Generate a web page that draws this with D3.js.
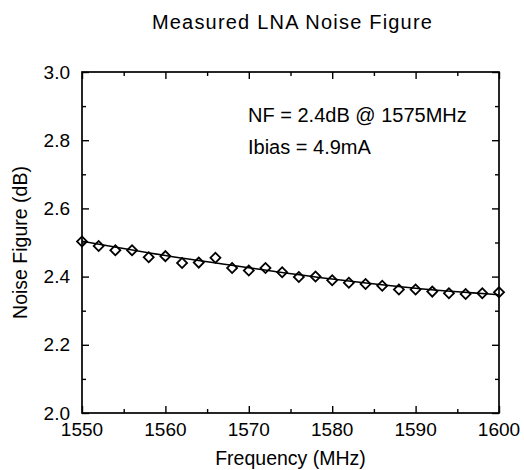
<!DOCTYPE html>
<html>
<head>
<meta charset="utf-8">
<script src="https://cdn.jsdelivr.net/npm/d3@7"></script>
<style>
  body { margin: 0; background: #fff; }
  text { font-family: "Liberation Sans", Arial, Helvetica, sans-serif; fill: #000; }
</style>
</head>
<body>
<div id="chart"></div>
<script>
// measured points
var freq = [1550, 1552, 1554, 1556, 1558, 1560, 1562, 1564, 1566, 1568, 1570, 1572, 1574,
            1576, 1578, 1580, 1582, 1584, 1586, 1588, 1590, 1592, 1594, 1596, 1598, 1600];
var noiseFig = [2.503, 2.490, 2.477, 2.477, 2.457, 2.460, 2.440, 2.441, 2.455, 2.425, 2.418, 2.425, 2.413,
                2.399, 2.400, 2.389, 2.382, 2.378, 2.373, 2.362, 2.362, 2.356, 2.351, 2.349, 2.351, 2.354];

// fitted curve
var fitFreq = [1550, 1560, 1570, 1580, 1590, 1600];
var fitNF = [2.504, 2.462, 2.426, 2.393, 2.366, 2.347];

var xTicks = [1550, 1560, 1570, 1580, 1590, 1600];
var yTicks = [2.0, 2.2, 2.4, 2.6, 2.8, 3.0];

var title = "Measured LNA Noise Figure";
var notes = ["NF = 2.4dB @ 1575MHz", "Ibias = 4.9mA"];

var svgWidth = 524, svgHeight = 470;
var margin = { top: 72, right: 25, bottom: 57, left: 82 };
var width = svgWidth - margin.left - margin.right;
var height = svgHeight - margin.top - margin.bottom;

var svg = d3.select("#chart").append("svg")
  .attr("width", svgWidth)
  .attr("height", svgHeight);

var chart = svg.append("g")
  .attr("transform", "translate(" + margin.left + "," + margin.top + ")");

var x = d3.scaleLinear().domain([1550, 1600]).range([0, width]);
var y = d3.scaleLinear().domain([2.0, 3.0]).range([height, 0]);

// minor ticks (inward, short)
var xMinor = [1555, 1565, 1575, 1585, 1595];
var yMinor = [2.1, 2.3, 2.5, 2.7, 2.9];

function ticks(g, axisFn, scale, vals, len) {
  g.call(axisFn(scale).tickValues(vals).tickSize(-len).tickFormat(""));
}

// major + minor ticks on all four sides
[[d3.axisBottom, x, "translate(0," + height + ")"],
 [d3.axisTop, x, "translate(0,0)"]].forEach(function(a) {
  ticks(chart.append("g").attr("transform", a[2]), a[0], a[1], xTicks, 7);
  ticks(chart.append("g").attr("transform", a[2]), a[0], a[1], xMinor, 4);
});
[[d3.axisLeft, y, "translate(0,0)"],
 [d3.axisRight, y, "translate(" + width + ",0)"]].forEach(function(a) {
  ticks(chart.append("g").attr("transform", a[2]), a[0], a[1], yTicks, 7);
  ticks(chart.append("g").attr("transform", a[2]), a[0], a[1], yMinor, 4);
});
chart.selectAll(".domain").remove();
chart.selectAll(".tick line").attr("stroke", "#000").attr("stroke-width", 1.4);

// frame
chart.append("rect")
  .attr("width", width).attr("height", height)
  .attr("fill", "none").attr("stroke", "#000").attr("stroke-width", 1.7);

// tick labels
chart.selectAll(".xlab").data(xTicks).enter().append("text")
  .attr("x", function(d) { return x(d); })
  .attr("y", height + 23)
  .attr("text-anchor", "middle")
  .style("font-size", "19px")
  .text(function(d) { return d; });

chart.selectAll(".ylab").data(yTicks).enter().append("text")
  .attr("x", -12)
  .attr("y", function(d) { return y(d); })
  .attr("dy", "0.35em")
  .attr("text-anchor", "end")
  .style("font-size", "19px")
  .text(function(d) { return d.toFixed(1); });

// axis titles
chart.append("text")
  .attr("x", width / 2)
  .attr("y", height + 52)
  .attr("text-anchor", "middle")
  .style("font-size", "19.5px")
  .text("Frequency (MHz)");

chart.append("text")
  .attr("transform", "rotate(-90)")
  .attr("x", -height / 2)
  .attr("y", -55)
  .attr("text-anchor", "middle")
  .style("font-size", "19.5px")
  .text("Noise Figure (dB)");

svg.append("text")
  .attr("x", margin.left + width / 2 + 2)
  .attr("y", 29)
  .attr("text-anchor", "middle")
  .style("font-size", "20px")
  .style("letter-spacing", "1.2px")
  .text(title);

chart.selectAll(".note").data(notes).enter().append("text")
  .attr("x", 166)
  .attr("y", function(d, i) { return 50 + i * 31.5; })
  .style("font-size", "20px")
  .text(function(d) { return d; });

// fit line
var line = d3.line()
  .x(function(d, i) { return x(fitFreq[i]); })
  .y(function(d) { return y(d); })
  .curve(d3.curveMonotoneX);

chart.append("path")
  .datum(fitNF)
  .attr("d", line)
  .attr("fill", "none")
  .attr("stroke", "#000")
  .attr("stroke-width", 1.5);

// diamond markers
var diamond = d3.symbol().type(d3.symbolSquare).size(50);
chart.selectAll(".pt").data(noiseFig).enter().append("path")
  .attr("d", diamond)
  .attr("transform", function(d, i) {
    return "translate(" + x(freq[i]) + "," + y(d) + ") rotate(45)";
  })
  .attr("fill", "none")
  .attr("stroke", "#000")
  .attr("stroke-width", 1.8);
</script>
</body>
</html>
